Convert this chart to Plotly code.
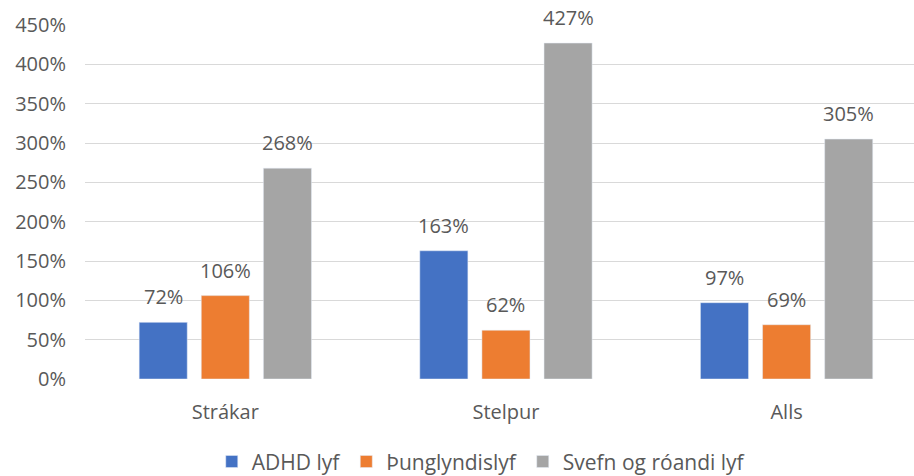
import plotly.graph_objects as go

categories = ["Strákar", "Stelpur", "Alls"]
series_names = ["ADHD lyf", "Þunglyndislyf", "Svefn og róandi lyf"]
adhd = [72, 163, 97]
thung = [106, 62, 69]
svefn = [268, 427, 305]
tick_vals = [0, 50, 100, 150, 200, 250, 300, 350, 400, 450]
tick_text = [f"{v}%" for v in tick_vals]

colors = ["#4472C4", "#ED7D31", "#A5A5A5"]
FONT = "Open Sans"
TXT = "#595959"
BARGAP = 0.336

fig = go.Figure()
annotations = []
all_series = [adhd, thung, svefn]
for k, (name, vals, col) in enumerate(zip(series_names, all_series, colors)):
    fig.add_trace(go.Bar(
        x=categories, y=vals, name=name, marker_color=col,
        hoverinfo="x+y",
    ))
    off = (k - 1) * (1 - BARGAP) / 3
    for i, v in enumerate(vals):
        annotations.append(dict(
            x=i + off, y=v, xref="x", yref="y", text=f"{v}%",
            showarrow=False, yanchor="bottom", yshift=10,
            font=dict(size=20, color=TXT, family=FONT),
        ))

fig.update_layout(
    width=914, height=476,
    paper_bgcolor="white", plot_bgcolor="white",
    margin=dict(l=85, r=0, t=25, b=97, autoexpand=False),
    barmode="group", bargap=BARGAP, bargroupgap=0.226,
    font=dict(family=FONT, size=20, color=TXT),
    xaxis=dict(range=[-0.5, 2.454], showgrid=False, zeroline=False,
               showline=False, ticks="outside", ticklen=15, tickcolor="white",
               tickfont=dict(size=20, color=TXT)),
    yaxis=dict(range=[0, 450], tickvals=tick_vals, ticktext=tick_text,
               showgrid=True, gridcolor="#D9D9D9", gridwidth=1,
               zeroline=False, showline=False, ticks="", ticklabelstandoff=18,
               tickfont=dict(size=20, color=TXT)),
    legend=dict(orientation="h", x=0.478, xanchor="center", y=-0.234, yanchor="middle",
                font=dict(size=21, color=TXT), itemwidth=30,
                traceorder="normal"),
    annotations=annotations,
)

fig.write_html("out.html", config={"displayModeBar": False})
with open("out.html", "r", encoding="utf-8") as f:
    html = f.read()
html = html.replace("<body>", '<body style="margin:0;padding:0;overflow:hidden">', 1)
with open("out.html", "w", encoding="utf-8") as f:
    f.write(html)
